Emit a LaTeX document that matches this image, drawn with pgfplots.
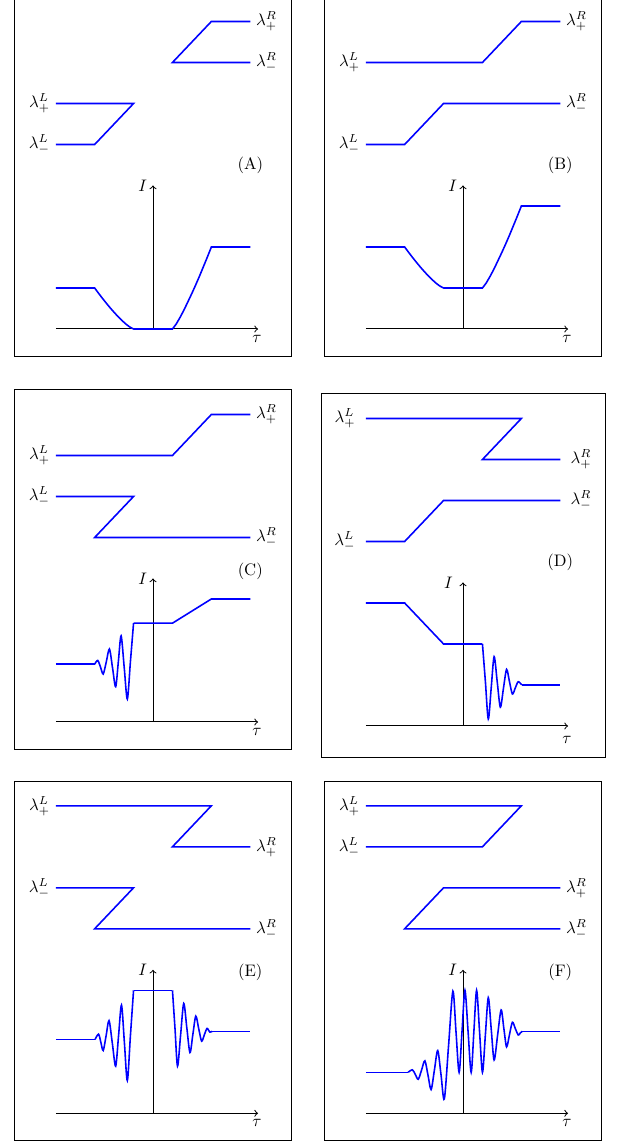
\documentclass[border=0pt]{standalone}
\usepackage{pgfplots}
\pgfplotsset{compat=1.18}

% one unit = 0.8cm-ish; x and y units taken from the reference grid
\pgfplotsset{
  panel/.style={x=23.34pt, y=24.6pt, anchor=origin, clip=false,
    xtick=\empty, ytick=\empty, axis line style={black, line width=0.6pt}},
  ax/.style={black, line width=0.6pt, ->},
  lam/.style={blue, line width=0.95pt},
  osc/.style={blue, line width=0.95pt, smooth},
}

\begin{document}
\begin{tikzpicture}
\useasboundingbox (0,0) rectangle (375pt,685.2pt);

% ---------------- (A) ----------------
\begin{axis}[panel, at={(91.8pt,487.8pt)},
  xmin=-3.573, xmax=3.548, ymin=-0.659, ymax=8.3]
\addplot[ax] coordinates {(-2.5,0) (2.7,0)};
\addplot[ax] coordinates {(0,0) (0,3.5)};
\addplot[lam] coordinates {(2.5,7.5) (1.5,7.5) (0.5,6.5) (2.5,6.5)};
\addplot[lam] coordinates {(-2.5,5.5) (-0.5,5.5) (-1.5,4.5) (-2.5,4.5)};
\addplot[lam] coordinates {(-2.5,1) (-1.5,1) (-1.4,0.872) (-1.3,0.748)
  (-1.2,0.629) (-1.1,0.515) (-1.0,0.406) (-0.9,0.304) (-0.8,0.209)
  (-0.7,0.123) (-0.6,0.050) (-0.5,0) (0.5,0) (0.6,0.126) (0.7,0.29)
  (0.8,0.47) (0.9,0.67) (1.0,0.87) (1.1,1.08) (1.2,1.30) (1.3,1.53)
  (1.4,1.76) (1.5,2) (2.5,2)};
\node[left] at (-2.5,5.5) {$\lambda^L_+$};
\node[left] at (-2.5,4.5) {$\lambda^L_-$};
\node[right] at (2.5,7.5) {$\lambda^R_+$};
\node[right] at (2.5,6.5) {$\lambda^R_-$};
\node at (2.5,4.0) {(A)};
\node[left] at (0,3.5) {$I$};
\node[below] at (2.67,0) {$\tau$};
\end{axis}

% ---------------- (B) ----------------
\begin{axis}[panel, at={(277.8pt,487.8pt)},
  xmin=-3.548, xmax=3.573, ymin=-0.659, ymax=8.3]
\addplot[ax] coordinates {(-2.5,0) (2.7,0)};
\addplot[ax] coordinates {(0,0) (0,3.5)};
\addplot[lam] coordinates {(-2.5,6.5) (0.5,6.5) (1.5,7.5) (2.5,7.5)};
\addplot[lam] coordinates {(-2.5,4.5) (-1.5,4.5) (-0.5,5.5) (2.5,5.5)};
\addplot[lam] coordinates {(-2.5,2) (-1.5,2) (-1.4,1.872) (-1.3,1.748)
  (-1.2,1.629) (-1.1,1.515) (-1.0,1.406) (-0.9,1.304) (-0.8,1.209)
  (-0.7,1.123) (-0.6,1.050) (-0.5,1) (0.5,1) (0.6,1.126) (0.7,1.29)
  (0.8,1.47) (0.9,1.67) (1.0,1.87) (1.1,2.08) (1.2,2.30) (1.3,2.53)
  (1.4,2.76) (1.5,3) (2.5,3)};
\node[left] at (-2.5,6.5) {$\lambda^L_+$};
\node[left] at (-2.5,4.5) {$\lambda^L_-$};
\node[right] at (2.5,7.5) {$\lambda^R_+$};
\node[right] at (2.5,5.5) {$\lambda^R_-$};
\node at (2.5,4.0) {(B)};
\node[left] at (0,3.5) {$I$};
\node[below] at (2.67,0) {$\tau$};
\end{axis}

% ---------------- (C) ----------------
\begin{axis}[panel, at={(91.8pt,252.0pt)},
  xmin=-3.573, xmax=3.548, ymin=-0.683, ymax=8.098]
\addplot[ax] coordinates {(-2.5,0) (2.7,0)};
\addplot[ax] coordinates {(0,0) (0,3.5)};
\addplot[lam] coordinates {(-2.5,6.5) (0.5,6.5) (1.5,7.5) (2.5,7.5)};
\addplot[lam] coordinates {(-2.5,5.5) (-0.5,5.5) (-1.5,4.5) (2.5,4.5)};
\addplot[lam] coordinates {(-2.5,1.41) (-1.5,1.41)};
\addplot[osc] coordinates {(-1.50,1.41) (-1.42,1.50) (-1.35,1.34)
  (-1.28,1.17) (-1.20,1.47) (-1.12,1.78) (-1.04,1.32) (-0.96,0.86)
  (-0.89,1.48) (-0.82,2.10) (-0.74,1.33) (-0.66,0.56) (-0.58,1.48)
  (-0.50,2.41)};
\addplot[lam] coordinates {(-0.5,2.41) (0.5,2.41) (1.5,3.0) (2.5,3.0)};
\node[left] at (-2.5,6.5) {$\lambda^L_+$};
\node[left] at (-2.5,5.5) {$\lambda^L_-$};
\node[right] at (2.5,7.5) {$\lambda^R_+$};
\node[right] at (2.5,4.5) {$\lambda^R_-$};
\node at (2.5,3.67) {(C)};
\node[left] at (0,3.5) {$I$};
\node[below] at (2.67,0) {$\tau$};
\end{axis}

% ---------------- (D) ----------------
\begin{axis}[panel, at={(277.8pt,249.6pt)},
  xmin=-3.650, xmax=3.668, ymin=-0.773, ymax=8.115]
\addplot[ax] coordinates {(-2.5,0) (2.7,0)};
\addplot[ax] coordinates {(0,0) (0,3.5)};
\addplot[lam] coordinates {(-2.5,7.5) (1.5,7.5) (0.5,6.5) (2.5,6.5)};
\addplot[lam] coordinates {(-2.5,4.5) (-1.5,4.5) (-0.5,5.5) (2.5,5.5)};
\addplot[lam] coordinates {(-2.5,3.0) (-1.5,3.0) (-0.5,2.0) (0.5,2.0)};
\addplot[osc] coordinates {(0.50,2.00) (0.575,1.09) (0.65,0.17)
  (0.725,0.93) (0.80,1.69) (0.88,1.075) (0.96,0.46) (1.04,0.92)
  (1.12,1.38) (1.195,1.08) (1.27,0.78) (1.345,0.93) (1.42,1.08)
  (1.51,1.0)};
\addplot[lam] coordinates {(1.51,1.0) (2.5,1.0)};
\node[left, inner sep=6pt] at (-2.5,7.5) {$\lambda^L_+$};
\node[left, inner sep=6pt] at (-2.5,4.5) {$\lambda^L_-$};
\node[right, inner sep=6pt] at (2.5,6.5) {$\lambda^R_+$};
\node[right, inner sep=6pt] at (2.5,5.5) {$\lambda^R_-$};
\node at (2.5,3.98) {(D)};
\node[left, inner sep=6pt] at (0,3.5) {$I$};
\node[below, inner sep=6pt] at (2.67,0) {$\tau$};
\end{axis}

% ---------------- (E) ----------------
\begin{axis}[panel, at={(91.8pt,17.22pt)},
  xmin=-3.573, xmax=3.548, ymin=-0.659, ymax=8.088]
\addplot[ax] coordinates {(-2.5,0) (2.7,0)};
\addplot[ax] coordinates {(0,0) (0,3.5)};
\addplot[lam] coordinates {(-2.5,7.5) (1.5,7.5) (0.5,6.5) (2.5,6.5)};
\addplot[lam] coordinates {(-2.5,5.5) (-0.5,5.5) (-1.5,4.5) (2.5,4.5)};
\addplot[lam] coordinates {(-2.5,1.8) (-1.49,1.8)};
\addplot[osc] coordinates {(-1.49,1.80) (-1.40,1.93) (-1.34,1.73)
  (-1.28,1.53) (-1.205,1.895) (-1.13,2.26) (-1.045,1.705) (-0.96,1.15)
  (-0.885,1.895) (-0.81,2.64) (-0.735,1.72) (-0.66,0.80) (-0.58,1.90)
  (-0.50,3.00)};
\addplot[lam] coordinates {(-0.5,3.0) (0.5,3.0)};
\addplot[osc] coordinates {(0.50,3.00) (0.565,2.075) (0.63,1.15)
  (0.71,1.915) (0.79,2.68) (0.87,2.08) (0.95,1.48) (1.025,1.925)
  (1.10,2.37) (1.175,2.065) (1.25,1.76) (1.32,1.915) (1.39,2.07)
  (1.46,1.98) (1.52,2.0)};
\addplot[lam] coordinates {(1.52,2.0) (2.5,2.0)};
\node[left] at (-2.5,7.5) {$\lambda^L_+$};
\node[left] at (-2.5,5.5) {$\lambda^L_-$};
\node[right] at (2.5,6.5) {$\lambda^R_+$};
\node[right] at (2.5,4.5) {$\lambda^R_-$};
\node at (2.5,3.45) {(E)};
\node[left] at (0,3.5) {$I$};
\node[below] at (2.67,0) {$\tau$};
\end{axis}

% ---------------- (F) ----------------
\begin{axis}[panel, at={(277.8pt,17.22pt)},
  xmin=-3.548, xmax=3.573, ymin=-0.659, ymax=8.088]
\addplot[ax] coordinates {(-2.5,0) (2.7,0)};
\addplot[ax] coordinates {(0,0) (0,3.5)};
\addplot[lam] coordinates {(-2.5,7.5) (1.5,7.5) (0.5,6.5) (-2.5,6.5)};
\addplot[lam] coordinates {(2.5,5.5) (-0.5,5.5) (-1.5,4.5) (2.5,4.5)};
\addplot[lam] coordinates {(-2.5,1.0) (-1.41,1.0)};
\addplot[osc] coordinates {(-1.41,1.00) (-1.30,1.06) (-1.225,0.945)
  (-1.15,0.83) (-1.065,1.055) (-0.98,1.28) (-0.90,0.93) (-0.82,0.58)
  (-0.735,1.055) (-0.65,1.53) (-0.565,0.94) (-0.48,0.35) (-0.37,1.665)
  (-0.26,2.98) (-0.18,1.99) (-0.10,1.00) (-0.025,2.00) (0.05,3.00)
  (0.13,2.00) (0.21,1.00) (0.28,2.00) (0.35,3.00) (0.425,2.00)
  (0.50,1.00) (0.575,1.91) (0.65,2.82) (0.725,2.06) (0.80,1.30)
  (0.89,1.91) (0.98,2.52) (1.05,2.07) (1.12,1.62) (1.195,1.92)
  (1.27,2.22) (1.345,2.065) (1.42,1.91) (1.47,1.955) (1.52,2.00)};
\addplot[lam] coordinates {(1.52,2.0) (2.5,2.0)};
\node[left] at (-2.5,7.5) {$\lambda^L_+$};
\node[left] at (-2.5,6.5) {$\lambda^L_-$};
\node[right] at (2.5,5.5) {$\lambda^R_+$};
\node[right] at (2.5,4.5) {$\lambda^R_-$};
\node at (2.5,3.45) {(F)};
\node[left] at (0,3.5) {$I$};
\node[below] at (2.67,0) {$\tau$};
\end{axis}
\end{tikzpicture}
\end{document}
